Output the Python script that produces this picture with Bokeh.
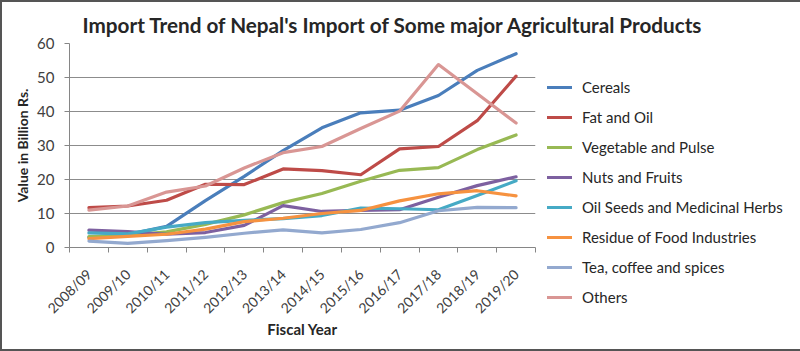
import math
from bokeh.plotting import figure
from bokeh.models import Range1d, FixedTicker, Legend, LegendItem
from bokeh.embed import file_html
from bokeh.resources import INLINE

years = ["2008/09", "2009/10", "2010/11", "2011/12", "2012/13", "2013/14",
         "2014/15", "2015/16", "2016/17", "2017/18", "2018/19", "2019/20"]

cereals = [3.0, 3.8, 6.2, 13.8, 20.9, 28.5, 35.2, 39.6, 40.4, 44.7, 52.1, 57.0]
fat_oil = [11.7, 12.2, 13.9, 18.6, 18.5, 23.1, 22.6, 21.4, 29.0, 29.7, 37.3, 50.4]
veg_pulse = [3.2, 3.6, 4.6, 6.8, 9.6, 13.2, 15.9, 19.5, 22.7, 23.5, 28.8, 33.1]
nuts_fruits = [5.1, 4.7, 3.9, 4.4, 6.5, 12.3, 10.6, 10.9, 11.1, 14.8, 18.2, 20.8]
oil_seeds = [4.3, 4.0, 6.0, 7.3, 8.0, 8.5, 9.4, 11.6, 11.4, 11.1, 15.3, 19.6]
residue = [2.6, 3.3, 3.9, 5.4, 7.6, 8.6, 10.0, 10.9, 13.7, 15.8, 16.7, 15.2]
tea_coffee = [1.9, 1.2, 2.0, 3.0, 4.2, 5.2, 4.3, 5.3, 7.3, 10.8, 11.8, 11.7]
others = [11.0, 12.2, 16.3, 18.1, 23.4, 27.9, 29.7, 35.0, 40.1, 53.8, 45.2, 36.6]

series_names = ["Cereals", "Fat and Oil", "Vegetable and Pulse", "Nuts and Fruits",
                "Oil Seeds and Medicinal Herbs", "Residue of Food Industries",
                "Tea, coffee and spices", "Others"]
series_values = [cereals, fat_oil, veg_pulse, nuts_fruits, oil_seeds, residue,
                 tea_coffee, others]
series_colors = ["#4A7EBB", "#BE4B48", "#98B954", "#7D60A0", "#46AAC5", "#F69240",
                 "#93A9CF", "#D99694"]

y_ticks = [0, 10, 20, 30, 40, 50, 60]

FONT = "Lato"
TXT = "#404040"

p = figure(frame_width=466, frame_height=204, output_backend="svg",
           toolbar_location=None,
           x_range=Range1d(0, len(years)), y_range=Range1d(0, 60),
           min_border_left=67, min_border_right=263, min_border_top=41,
           min_border_bottom=102)
p.styles = {"border": "2px solid #555555"}

p.title.text = "Import Trend of Nepal's Import of Some major Agricultural Products"
p.title.text_font = FONT
p.title.text_font_size = "20.7px"
p.title.text_font_style = "bold"
p.title.text_color = "#262626"
p.title.align = "left"
p.title.offset = 13
p.title.standoff = 14

p.outline_line_color = None
p.background_fill_color = "white"
p.border_fill_color = "white"

xs = [i + 0.5 for i in range(len(years))]

# x axis
p.xaxis.ticker = FixedTicker(ticks=xs, minor_ticks=list(range(len(years) + 1)))
p.xaxis.major_label_overrides = {x: y for x, y in zip(xs, years)}
p.xaxis.major_label_orientation = math.pi / 4
p.xaxis.major_tick_out = 0
p.xaxis.major_tick_in = 0
p.xaxis.minor_tick_out = 5
p.xaxis.minor_tick_in = 0
p.xaxis.minor_tick_line_color = "#868686"
p.xaxis.axis_line_color = "#868686"
p.xaxis.major_label_text_font = FONT
p.xaxis.major_label_text_font_size = "14px"
p.xaxis.major_label_text_color = TXT
p.xaxis.major_label_standoff = 19
p.xaxis.axis_label = "Fiscal Year"
p.xaxis.axis_label_text_font = FONT
p.xaxis.axis_label_text_font_size = "15px"
p.xaxis.axis_label_text_font_style = "bold"
p.xaxis.axis_label_text_color = "#262626"
p.xaxis.axis_label_standoff = -5

# y axis
p.yaxis.ticker = FixedTicker(ticks=y_ticks)
p.yaxis.minor_tick_line_color = None
p.yaxis.major_tick_out = 5
p.yaxis.major_tick_in = 0
p.yaxis.major_tick_line_color = "#868686"
p.yaxis.axis_line_color = "#868686"
p.yaxis.major_label_text_font = FONT
p.yaxis.major_label_text_font_size = "15px"
p.yaxis.major_label_text_color = TXT
p.yaxis.major_label_standoff = 10
p.yaxis.axis_label = "Value in Billion Rs."
p.yaxis.axis_label_text_font = FONT
p.yaxis.axis_label_text_font_size = "14px"
p.yaxis.axis_label_text_font_style = "bold"
p.yaxis.axis_label_text_color = "#262626"
p.yaxis.axis_label_standoff = 3

p.xgrid.grid_line_color = None
p.ygrid.grid_line_color = "#8C8C8C"
p.ygrid.grid_line_width = 1
p.ygrid.ticker = FixedTicker(ticks=y_ticks)

items = []
for name, vals, col in zip(series_names, series_values, series_colors):
    r = p.line(xs, vals, line_color=col, line_width=3.2, line_join="round",
               line_cap="round")
    items.append(LegendItem(label=name, renderers=[r]))

legend = Legend(items=items, location=(12, -60), orientation="vertical")
legend.label_text_font = FONT
legend.label_text_font_size = "15px"
legend.label_text_color = "#262626"
legend.label_height = 20
legend.glyph_height = 20
legend.glyph_width = 25
legend.spacing = 10
legend.padding = 0
legend.margin = 0
legend.label_standoff = 10
legend.border_line_color = None
legend.background_fill_alpha = 0
p.add_layout(legend, "right")

open("out.html", "w").write(file_html(p, INLINE))
